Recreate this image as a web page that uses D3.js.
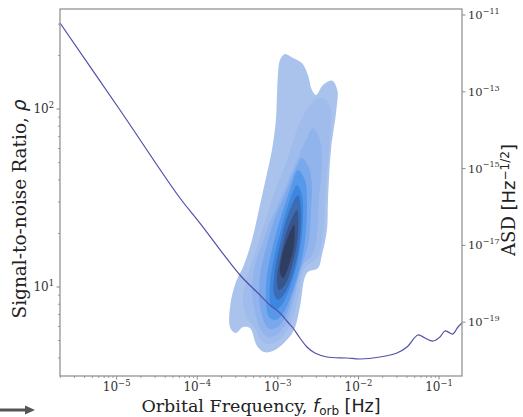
<!DOCTYPE html>
<html><head><meta charset="utf-8">
<script src="https://cdn.jsdelivr.net/npm/d3@7"></script>
<style>body{margin:0;background:#fff}svg{display:block}</style>
</head><body><svg id="c" width="523" height="417"></svg>
<script>
// ---- data (log10 values) ----
const xTickExps = [-5, -4, -3, -2, -1];
const yTickExps = [1, 2];
const asdTickExps = [-11, -13, -15, -17, -19];
const xDomainExp = [-5.703, -0.715];
const yDomainExp = [0.5, 2.562];
const asdDomainExp = [-20.401, -10.844];

// ASD curve: log10 f [Hz], log10 ASD
const asdLogF = [-5.703,-4.959,-4.215,-3.967,-3.470,-3.247,-3.098,-2.974,-2.877,-2.812,-2.726,-2.639,-2.540,-2.391,-2.143,-1.981,-1.733,-1.522,-1.398,-1.261,-1.175,-1.075,-0.989,-0.927,-0.865,-0.827,-0.765,-0.715];
const asdLogA = [-11.208,-13.474,-15.766,-16.417,-17.771,-18.240,-18.552,-18.760,-18.995,-19.151,-19.411,-19.646,-19.802,-19.906,-19.932,-19.958,-19.906,-19.802,-19.646,-19.333,-19.411,-19.490,-19.385,-19.229,-19.281,-19.307,-19.125,-19.021];

// KDE filled contour levels: [log10 f, log10 rho]
const kdeLevel1 = [[-2.912,2.309],[-2.813,2.287],[-2.701,2.258],[-2.627,2.191],[-2.577,2.107],[-2.527,2.079],[-2.440,2.135],[-2.329,2.160],[-2.262,2.107],[-2.274,1.994],[-2.341,1.770],[-2.378,1.489],[-2.391,1.320],[-2.453,1.180],[-2.502,1.107],[-2.639,1.079],[-2.726,0.888],[-2.800,0.758],[-2.912,0.691],[-3.061,0.640],[-3.172,0.635],[-3.259,0.669],[-3.346,0.770],[-3.433,0.775],[-3.520,0.742],[-3.590,0.770],[-3.590,0.899],[-3.520,1.028],[-3.421,1.124],[-3.321,1.264],[-3.222,1.461],[-3.148,1.612],[-3.073,1.770],[-3.024,1.938],[-3.011,2.079],[-2.999,2.191],[-2.974,2.275]];
const kdeLevel2 = [[-2.502,2.062],[-2.403,2.051],[-2.341,1.994],[-2.366,1.770],[-2.416,1.489],[-2.440,1.292],[-2.515,1.163],[-2.664,1.107],[-2.763,0.910],[-2.850,0.787],[-2.962,0.713],[-3.098,0.680],[-3.197,0.697],[-3.284,0.770],[-3.383,0.826],[-3.433,0.927],[-3.383,1.051],[-3.259,1.225],[-3.160,1.365],[-3.073,1.489],[-2.887,1.713],[-2.726,1.927],[-2.602,2.022]];
const kdeLevel3 = [[-2.565,1.893],[-2.478,1.826],[-2.453,1.713],[-2.490,1.489],[-2.515,1.292],[-2.577,1.180],[-2.689,1.124],[-2.800,0.927],[-2.887,0.803],[-2.999,0.736],[-3.123,0.719],[-3.210,0.758],[-3.284,0.860],[-3.321,0.983],[-3.284,1.124],[-3.197,1.236],[-3.098,1.365],[-2.974,1.489],[-2.763,1.713],[-2.639,1.837]];
const kdeLevel4 = [[-2.701,1.725],[-2.614,1.669],[-2.577,1.573],[-2.589,1.433],[-2.614,1.264],[-2.689,1.140],[-2.813,0.955],[-2.912,0.826],[-3.024,0.770],[-3.123,0.770],[-3.197,0.843],[-3.234,0.955],[-3.210,1.096],[-3.135,1.236],[-3.024,1.404],[-2.912,1.517],[-2.788,1.657]];
const kdeLevel5 = [[-2.751,1.657],[-2.664,1.601],[-2.639,1.489],[-2.651,1.320],[-2.701,1.163],[-2.813,0.983],[-2.924,0.860],[-3.024,0.815],[-3.110,0.831],[-3.148,0.927],[-3.135,1.067],[-3.073,1.208],[-2.974,1.376],[-2.850,1.545]];
const kdeLevel6 = [[-2.763,1.573],[-2.701,1.517],[-2.689,1.376],[-2.726,1.208],[-2.825,1.028],[-2.937,0.910],[-3.024,0.871],[-3.086,0.899],[-3.098,1.011],[-3.048,1.163],[-2.962,1.320],[-2.850,1.489]];
const kdeLevel7 = [[-2.751,1.517],[-2.713,1.433],[-2.726,1.264],[-2.800,1.096],[-2.912,0.966],[-2.999,0.927],[-3.048,0.961],[-3.036,1.096],[-2.974,1.236],[-2.875,1.404]];
const kdeLevel8 = [[-2.763,1.433],[-2.751,1.292],[-2.813,1.140],[-2.912,1.011],[-2.986,0.983],[-3.011,1.039],[-2.962,1.180],[-2.875,1.331]];
const kdeLevel9 = [[-2.800,1.348],[-2.800,1.236],[-2.862,1.124],[-2.937,1.051],[-2.974,1.084],[-2.937,1.197],[-2.862,1.292]];
const kdeLevels = [kdeLevel1,kdeLevel2,kdeLevel3,kdeLevel4,kdeLevel5,kdeLevel6,kdeLevel7,kdeLevel8,kdeLevel9];
const kdeColors = ["#a9c3ed","#9fbced","#91b4ed","#7aa8ec","#5898ea","#3e87e0","#3b6db7","#37548b","#2f3d60"];

// ---- layout ----
const L = 60, R = 462, T = 9, B = 376;
const svg = d3.select("#c");
const serif = "'DejaVu Serif', serif";
const sans = "'DejaVu Sans', sans-serif";

const x = d3.scaleLog().domain(xDomainExp.map(e => 10 ** e)).range([L, R]);
const y = d3.scaleLog().domain(yDomainExp.map(e => 10 ** e)).range([B, T]);
const yA = d3.scaleLog().domain(asdDomainExp.map(e => 10 ** e)).range([B, T]);

svg.append("defs").append("clipPath").attr("id", "clip")
  .append("rect").attr("x", L).attr("y", T).attr("width", R - L).attr("height", B - T);

const plot = svg.append("g").attr("clip-path", "url(#clip)");

const contourLine = d3.line()
  .x(d => x(10 ** d[0])).y(d => y(10 ** d[1]))
  .curve(d3.curveCatmullRomClosed.alpha(0.5));

plot.selectAll("path.kde").data(kdeLevels).join("path")
  .attr("class", "kde")
  .attr("d", contourLine)
  .attr("fill", (d, i) => kdeColors[i]);

const asdData = asdLogF.map((f, i) => [f, asdLogA[i]]);
plot.append("path")
  .attr("d", d3.line().x(d => x(10 ** d[0])).y(d => yA(10 ** d[1])).curve(d3.curveCatmullRom.alpha(0.5))(asdData))
  .attr("fill", "none").attr("stroke", "#5050aa").attr("stroke-width", 1.2);

// frame
svg.append("rect").attr("x", L).attr("y", T).attr("width", R - L).attr("height", B - T)
  .attr("fill", "none").attr("stroke", "#8a8a8a").attr("stroke-width", 1.2);

// ---- axes ----
const tickCol = "#8a8a8a";
function supLabel(g, base, exp, size) {
  const t = g.append("text").attr("font-family", serif).attr("font-size", size).attr("fill", "#333");
  t.append("tspan").text(base);
  t.append("tspan").attr("font-size", size * 0.7).attr("dy", -size * 0.45).text(exp);
  return t;
}
const minus = "\u2212";

// bottom
const gx = svg.append("g");
const xMin = d3.range(-6, 0).flatMap(e => d3.range(2, 10).map(k => k * 10 ** e)).filter(v => v >= x.domain()[0] && v <= x.domain()[1]);
gx.selectAll("line.minor").data(xMin).join("line").attr("class", "minor")
  .attr("x1", d => x(d)).attr("x2", d => x(d)).attr("y1", B).attr("y2", B + 2)
  .attr("stroke", tickCol).attr("stroke-width", 0.8);
xTickExps.forEach(e => {
  const px = x(10 ** e);
  gx.append("line").attr("x1", px).attr("x2", px).attr("y1", B).attr("y2", B + 3.5).attr("stroke", tickCol);
  supLabel(gx, "10", minus + Math.abs(e), 12).attr("x", px).attr("y", 391).attr("text-anchor", "middle");
});

// left
const gy = svg.append("g");
const yMin = d3.range(0, 3).flatMap(e => d3.range(2, 10).map(k => k * 10 ** e)).filter(v => v >= y.domain()[0] && v <= y.domain()[1]);
gy.selectAll("line.minor").data(yMin).join("line").attr("class", "minor")
  .attr("x1", L - 2).attr("x2", L).attr("y1", d => y(d)).attr("y2", d => y(d))
  .attr("stroke", tickCol).attr("stroke-width", 0.8);
yTickExps.forEach(e => {
  const py = y(10 ** e);
  gy.append("line").attr("x1", L - 3.5).attr("x2", L).attr("y1", py).attr("y2", py).attr("stroke", tickCol);
  supLabel(gy, "10", String(e), 12).attr("x", 54).attr("y", py + 4).attr("text-anchor", "end");
});

// right
const gr = svg.append("g");
asdTickExps.forEach(e => {
  const py = yA(10 ** e);
  gr.append("line").attr("x1", R).attr("x2", R + 3.5).attr("y1", py).attr("y2", py).attr("stroke", tickCol);
  supLabel(gr, "10", minus + Math.abs(e), 11.5).attr("x", 468).attr("y", py + 4).attr("text-anchor", "start");
});

// axis labels
const xl = svg.append("text").attr("x", (L + R) / 2).attr("y", 412).attr("text-anchor", "middle")
  .attr("font-size", 17.5).attr("fill", "#222");
xl.append("tspan").attr("font-family", serif).text("Orbital Frequency, ");
xl.append("tspan").attr("font-family", sans).attr("font-style", "italic").text("f");
xl.append("tspan").attr("font-family", sans).attr("font-size", 12).attr("dy", 3).text("orb");
xl.append("tspan").attr("font-family", sans).attr("dy", -3).text(" [Hz]");

const yl = svg.append("text").attr("transform", `translate(26,209) rotate(-90)`)
  .attr("text-anchor", "middle").attr("font-size", 18.5).attr("fill", "#222");
yl.append("tspan").attr("font-family", serif).text("Signal-to-noise Ratio, ");
yl.append("tspan").attr("font-family", sans).attr("font-style", "italic").text("\u03c1");

const rl = svg.append("text").attr("transform", `translate(515,200) rotate(-90)`)
  .attr("text-anchor", "middle").attr("font-size", 18).attr("fill", "#222");
rl.append("tspan").attr("font-family", serif).text("ASD ");
rl.append("tspan").attr("font-family", sans).text("[Hz");
rl.append("tspan").attr("font-family", sans).attr("font-size", 12).attr("dy", -6).text(minus + "1/2");
rl.append("tspan").attr("font-family", sans).attr("dy", 6).text("]");

// arrow at bottom-left
const arrowY = 410;
svg.append("line").attr("x1", 0).attr("x2", 26).attr("y1", arrowY).attr("y2", arrowY)
  .attr("stroke", "#555").attr("stroke-width", 3);
svg.append("path").attr("d", d3.line()([[25, arrowY - 4.5], [35, arrowY], [25, arrowY + 4.5]]))
  .attr("fill", "#555");
</script>
</body></html>
